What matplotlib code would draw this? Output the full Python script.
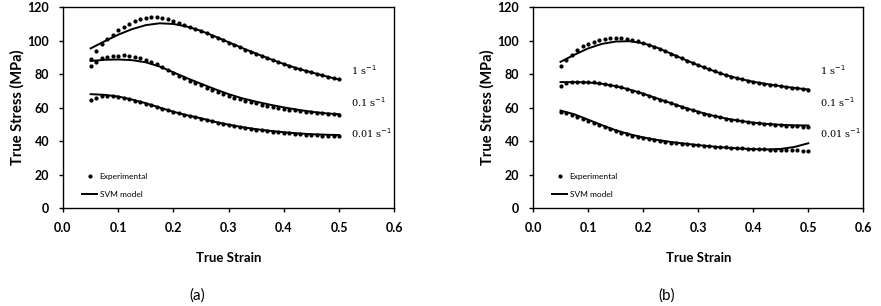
import numpy as np
import matplotlib
matplotlib.use('Agg')
from matplotlib import pyplot as plt

# strain grids
strain_exp = np.round(np.arange(0.05, 0.501, 0.01), 2)
strain_svm = np.round(np.arange(0.05, 0.501, 0.025), 3)

# panel (a) experimental
a_exp_1 = [89, 93.5, 97.8, 101, 103.6, 106, 108.2, 110, 111.6, 112.7, 113.5, 114, 114, 113.6, 112.8, 111.6,
           110.4, 109.1, 108, 106.8, 105.6, 104.3, 103, 101.6, 100.2, 98.8, 97.4, 96, 94.6, 93.2, 91.9, 90.6,
           89.4, 88.2, 87.1, 86, 84.9, 83.9, 82.9, 81.9, 81, 80.1, 79.2, 78.4, 77.6, 76.8]
a_exp_01 = [85, 87, 89.6, 90.2, 90.7, 91, 91.1, 90.9, 90.4, 89.6, 88.6, 87.3, 85.8, 84.2, 82.5, 80.8,
            79.1, 77.5, 76, 74.6, 73.2, 71.8, 70.5, 69.2, 68, 66.9, 65.9, 65, 64.1, 63.3, 62.5, 61.8,
            61.1, 60.5, 59.9, 59.3, 58.8, 58.3, 57.9, 57.5, 57.1, 56.8, 56.5, 56.2, 56, 55.8]
a_exp_001 = [64.8, 66, 66.7, 67, 66.9, 66.5, 65.9, 65.1, 64.2, 63.3, 62.3, 61.3, 60.3, 59.3, 58.3, 57.4,
             56.5, 55.7, 54.9, 54.1, 53.3, 52.5, 51.7, 51, 50.3, 49.6, 49, 48.4, 47.9, 47.4, 46.9, 46.4,
             46, 45.6, 45.2, 44.9, 44.6, 44.3, 44, 43.8, 43.6, 43.4, 43.3, 43.2, 43.1, 43]
# panel (a) SVM model
a_svm_1 = [95.3, 99.5, 103.5, 106.8, 109.2, 110.3, 109.9, 108.3, 105.8, 102.5, 99, 95.5, 92.2, 89, 86,
           83.3, 81, 78.8, 76.7]
a_svm_01 = [87.8, 88.5, 88.7, 88.3, 87, 84.5, 81, 77.5, 74.2, 71, 68, 65.5, 63.5, 61.7, 60.1, 58.7,
            57.5, 56.6, 56]
a_svm_001 = [68, 67.6, 66.6, 64.8, 62.6, 60, 57.5, 55.4, 53.6, 51.5, 49.8, 48.3, 47.1, 46.1, 45.3, 44.6,
             44.1, 43.8, 43.6]

# panel (b) experimental
b_exp_1 = [85, 88.5, 91.5, 94.3, 96.5, 98.2, 99.4, 100.3, 100.9, 101.3, 101.5, 101.4, 101, 100.4, 99.6,
           98.6, 97.5, 96.3, 95, 93.6, 92.2, 90.8, 89.4, 88, 86.6, 85.3, 84, 82.8, 81.6, 80.4, 79.3, 78.4,
           77.6, 76.8, 76.1, 75.4, 74.8, 74.2, 73.7, 73.2, 72.8, 72.3, 71.9, 71.5, 71.1, 70.7]
b_exp_01 = [73, 74.5, 75, 75.3, 75.4, 75.3, 75, 74.6, 74.1, 73.5, 72.8, 72, 71.1, 70.1, 69.1, 68.1,
            67, 65.9, 64.8, 63.7, 62.6, 61.5, 60.4, 59.3, 58.3, 57.3, 56.4, 55.6, 54.8, 54.1, 53.4, 52.8,
            52.3, 51.8, 51.4, 51, 50.6, 50.3, 50, 49.7, 49.5, 49.2, 49, 48.8, 48.6, 48.3]
b_exp_001 = [57.5, 56.8, 55.8, 54.6, 53.3, 52, 50.7, 49.4, 48.2, 47, 45.9, 44.9, 44, 43.2, 42.5, 41.8,
             41.2, 40.6, 40.1, 39.6, 39.1, 38.7, 38.3, 38, 37.7, 37.4, 37.1, 36.9, 36.6, 36.4, 36.2, 36,
             35.8, 35.6, 35.5, 35.3, 35.2, 35.1, 34.9, 34.8, 34.7, 34.6, 34.5, 34.4, 34.3, 34.2]
# panel (b) SVM model
b_svm_1 = [87.3, 91.5, 95.3, 98, 99.4, 99.6, 98.4, 95.8, 92.3, 88.7, 85.3, 82.2, 79.4, 77.2, 75.4,
           74, 72.8, 71.7, 70.8]
b_svm_01 = [75.2, 75.2, 75, 74.2, 72.8, 70.8, 68.3, 65.5, 62.7, 60, 57.5, 55.3, 53.5, 52.1, 51, 50.2,
            49.7, 49.4, 49.3]
b_svm_001 = [58.2, 56, 52.8, 49.5, 46.5, 44.1, 42.2, 40.7, 39.5, 38.5, 37.6, 36.8, 36.1, 35.6, 35.2,
             35, 35.3, 36.5, 38.7]

rate_labels = ['1 s$^{-1}$', '0.1 s$^{-1}$', '0.01 s$^{-1}$']
rate_label_y = [82.5, 63.5, 45]
panel_labels = ['(a)', '(b)']

panels = [
    ([a_exp_1, a_exp_01, a_exp_001], [a_svm_1, a_svm_01, a_svm_001]),
    ([b_exp_1, b_exp_01, b_exp_001], [b_svm_1, b_svm_01, b_svm_001]),
]

plt.rcParams['font.family'] = ['Lato', 'DejaVu Sans']

fig = plt.figure(figsize=(8.81, 3.06), dpi=100)
ax_pos = [[0.0715, 0.320, 0.376, 0.657], [0.605, 0.320, 0.375, 0.657]]

for i, (exps, svms) in enumerate(panels):
    ax = fig.add_axes(ax_pos[i])
    for j in range(3):
        ax.plot(strain_exp, exps[j], 'o', color='black', markersize=2.0,
                label='Experimental' if j == 0 else None)
        ax.plot(strain_svm, svms[j], '-', color='black', linewidth=1.4,
                label='SVM model' if j == 0 else None)
        ax.text(0.522, rate_label_y[j], rate_labels[j], fontsize=7, family='DejaVu Serif',
                va='center', ha='left')
    ax.set_xlim(0, 0.6)
    ax.set_ylim(0, 120)
    ax.set_xticks(np.arange(0, 0.61, 0.1))
    ax.set_yticks(np.arange(0, 121, 20))
    ax.set_xticklabels(['%.1f' % t for t in np.arange(0, 0.61, 0.1)])
    ax.tick_params(direction='out', length=3, width=1, labelsize=9, pad=7)
    for lab in ax.get_xticklabels() + ax.get_yticklabels():
        lab.set_fontweight('bold')
    for sp in ax.spines.values():
        sp.set_linewidth(1.0)
    ax.set_xlabel('True Strain', fontsize=9.5, fontweight='bold', labelpad=13)
    ax.set_ylabel('True Stress (MPa)', fontsize=10.5, fontweight='bold', labelpad=2)
    ax.legend(loc='lower left', bbox_to_anchor=(0.035, 0.015), frameon=False, fontsize=6,
              handlelength=1.8, labelspacing=1.3, handletextpad=0.3)
    fig.text(ax_pos[i][0] + ax_pos[i][2] * 0.405, 0.035, panel_labels[i], fontsize=11,
             ha='center', va='center')

fig.savefig('out.png', dpi=100)
